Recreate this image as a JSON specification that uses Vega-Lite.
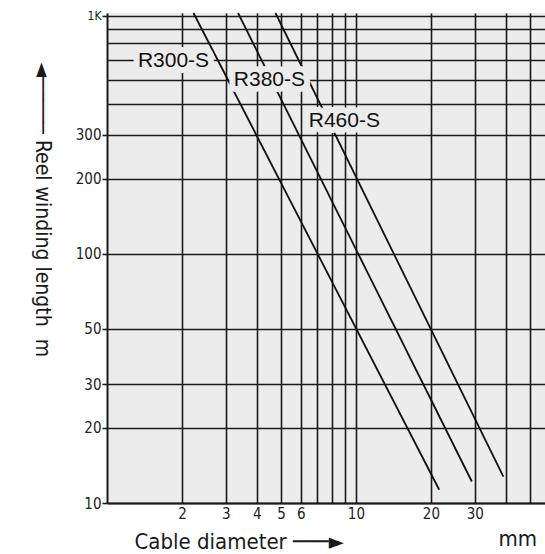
{
  "$schema": "https://vega.github.io/schema/vega-lite/v6.json",
  "width": 439,
  "height": 490,
  "autosize": {"type": "none"},
  "padding": {"left": 107, "top": 13, "right": 0, "bottom": 51},
  "background": "white",
  "config": {"view": {"fill": "#ececec", "stroke": null}, "font": "Liberation Sans"},
  "title": {"text": "mm", "orient": "bottom", "anchor": "end", "frame": "group", "offset": 6, "dx": -9, "dy": -29, "font": "DejaVu Sans Condensed, Roboto", "fontSize": 22, "fontWeight": "normal", "color": "#1a1a1a", "baseline": "top"},
  "datasets": {
    "curves": [
      {"series": "R300-S", "d": 2.225, "L": 925},
      {"series": "R300-S", "d": 21.6, "L": 11.3},
      {"series": "R380-S", "d": 3.36, "L": 925},
      {"series": "R380-S", "d": 29.2, "L": 12.2},
      {"series": "R460-S", "d": 4.75, "L": 925},
      {"series": "R460-S", "d": 39.1, "L": 12.75}
    ],
    "labels": [
      {"name": "R300-S", "d": 1.85, "L": 594},
      {"name": "R380-S", "d": 4.49, "L": 498},
      {"name": "R460-S", "d": 8.98, "L": 341}
    ]
  },
  "encoding": {
    "x": {
      "field": "d", "type": "quantitative",
      "scale": {"type": "log", "domain": [1, 58], "nice": false, "zero": false},
      "axis": {
        "values": [2, 3, 4, 5, 6, 7, 8, 9, 10, 20, 30, 40, 50],
        "labelExpr": "indexof([2,3,4,5,6,10,20,30], datum.value) >= 0 ? '' + datum.value : ''",
        "grid": true, "gridColor": "#1a1a1a", "gridWidth": 1.6, "gridOpacity": 1,
        "domainColor": "#1a1a1a", "domainWidth": 2,
        "ticks": false,
        "labelFont": "DejaVu Sans Condensed, Roboto", "labelFontSize": 15, "labelColor": "#222", "labelPadding": 3,
        "labelOverlap": false, "labelFlush": false,
        "title": "Cable diameter ───►",
        "titleFont": "DejaVu Sans Condensed, Roboto", "titleFontSize": 22, "titleFontWeight": "normal", "titleColor": "#1a1a1a",
        "titleAnchor": "start", "titleAlign": "left", "titleBaseline": "middle", "titleX": 27, "titleY": 38
      }
    },
    "y": {
      "field": "L", "type": "quantitative",
      "scale": {"type": "log", "domain": [10, 925], "nice": false, "zero": false},
      "axis": {
        "values": [10, 20, 30, 50, 100, 200, 300, 400, 500, 600, 700, 800, 900],
        "labelExpr": "datum.value == 900 ? '1K' : (datum.value <= 300 ? '' + datum.value : '')",
        "grid": true, "gridColor": "#1a1a1a", "gridWidth": 1.6, "gridOpacity": 1,
        "domainColor": "#1a1a1a", "domainWidth": 2,
        "tickSize": 5, "tickColor": "#1a1a1a", "tickWidth": 1.6,
        "tickOpacity": {"condition": {"test": "datum.value > 300 && datum.value < 900", "value": 0}, "value": 1},
        "labelFont": "DejaVu Sans Condensed, Roboto",
        "labelFontSize": {"condition": {"test": "datum.value == 900", "value": 12}, "value": 15},
        "labelColor": "#222", "labelPadding": 1,
        "labelOverlap": false, "labelFlush": false,
        "title": "◄───── Reel winding length\u00a0\u00a0m",
        "titleFont": "DejaVu Sans Condensed, Roboto", "titleFontSize": 21, "titleFontWeight": "normal", "titleColor": "#1a1a1a",
        "titleAngle": 90, "titleAlign": "left", "titleBaseline": "middle", "titleX": -66, "titleY": 49
      }
    }
  },
  "layer": [
    {
      "data": {"name": "curves"},
      "mark": {"type": "line", "color": "#111", "strokeWidth": 1.8, "clip": false},
      "encoding": {"detail": {"field": "series"}}
    },
    {
      "data": {"name": "labels"},
      "mark": {"type": "text", "font": "Liberation Sans", "fontSize": 21, "align": "center", "baseline": "middle", "fill": "#ececec", "stroke": "#ececec", "strokeWidth": 12, "strokeJoin": "round"},
      "encoding": {"text": {"field": "name"}}
    },
    {
      "data": {"name": "labels"},
      "mark": {"type": "text", "font": "Liberation Sans", "fontSize": 21, "align": "center", "baseline": "middle", "color": "#111"},
      "encoding": {"text": {"field": "name"}}
    }
  ]
}
